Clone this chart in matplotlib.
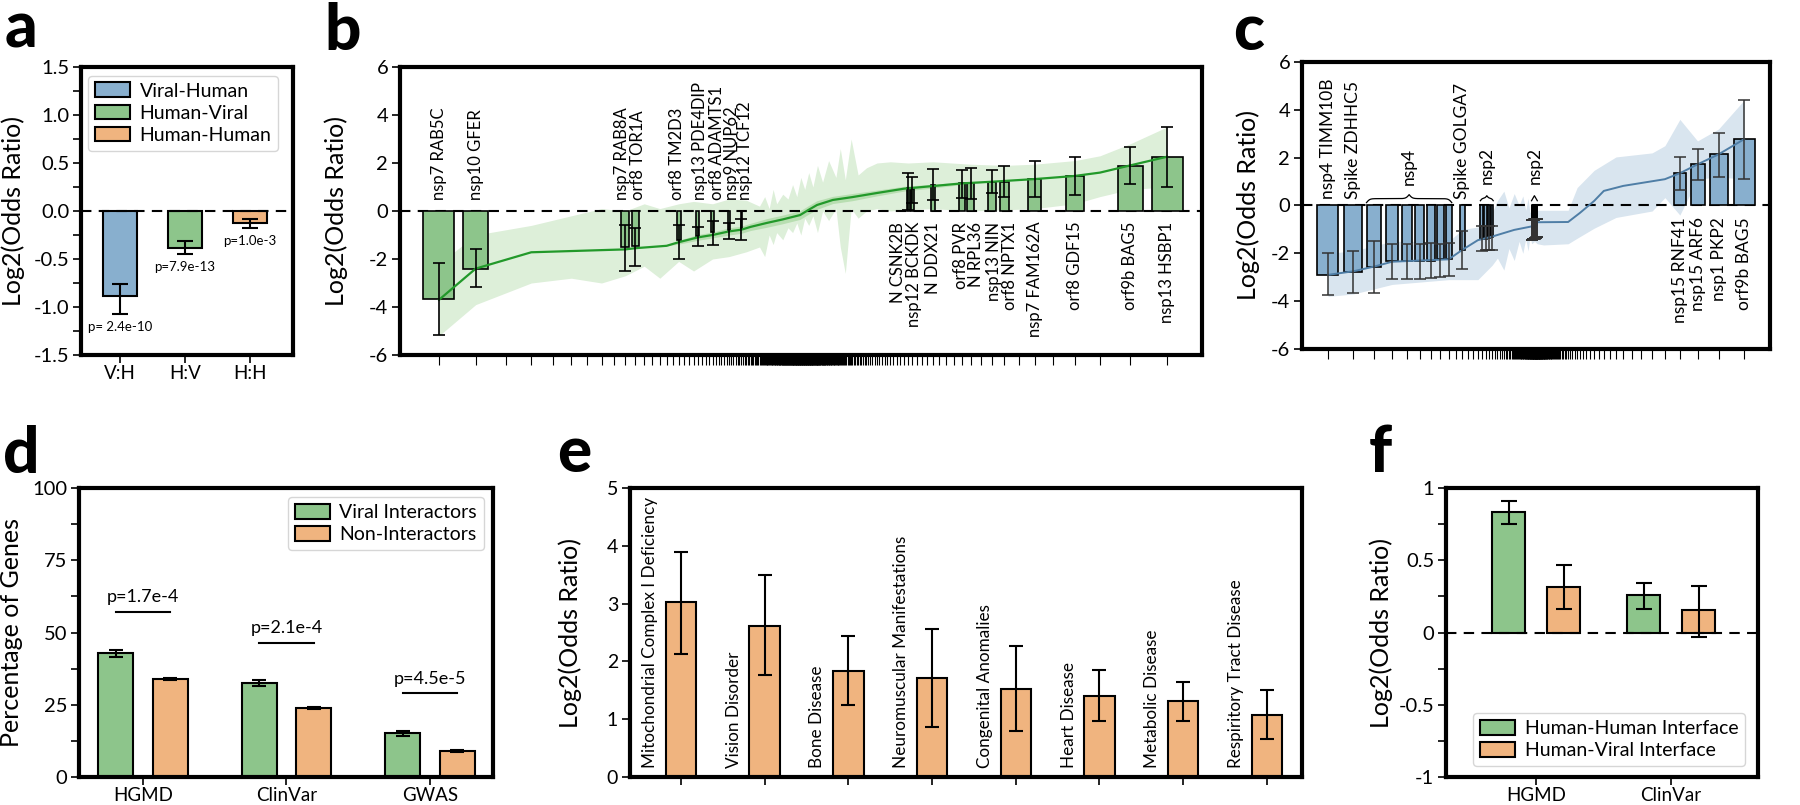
import numpy as np
import matplotlib
matplotlib.use('Agg')
import matplotlib.pyplot as plt
from matplotlib.ticker import MultipleLocator, NullLocator, FormatStrFormatter
from matplotlib.transforms import blended_transform_factory

plt.rcParams['font.family'] = ['Lato', 'DejaVu Sans']
plt.rcParams['axes.unicode_minus'] = False
plt.rcParams['axes.linewidth'] = 3

BLUE = '#88AFCE'
GREEN = '#8DC58B'
ORANGE = '#F0B47F'
B_LINE = '#22992a'
B_BAND = '#ddefd9'
B_INNER = '#b8deb1'
C_LINE = '#4f7ea6'
C_BAND = '#d9e5ef'

# ---------------- data ----------------
# a: interface odds ratios
a_cats = ['V:H', 'H:V', 'H:H']
a_names = ['Viral-Human', 'Human-Viral', 'Human-Human']
a_vals = [-0.89, -0.39, -0.13]
a_lo = [-1.075, -0.45, -0.18]
a_hi = [-0.76, -0.31, -0.086]
a_pvals = ['p= 2.4e-10', 'p=7.9e-13', 'p=1.0e-3']

# b: ranked viral-human pairs (rank along x)
b_n = 250
b_ranks = [1, 2, 10, 11, 17, 21, 25, 31, 37, 230, 231, 235, 239, 240, 242, 243, 245, 247, 249, 250]
b_names = ['nsp7 RAB5C', 'nsp10 GFER', 'nsp7 RAB8A', 'orf8 TOR1A', 'orf8 TM2D3',
           'nsp13 PDE4DIP', 'orf8 ADAMTS1', 'nsp9 NUP62', 'nsp12 TCF12',
           'N CSNK2B', 'nsp12 BCKDK', 'N DDX21', 'orf8 PVR', 'N RPL36', 'nsp13 NIN',
           'orf8 NPTX1', 'nsp7 FAM162A', 'orf8 GDF15', 'orf9b BAG5', 'nsp13 HSBP1']
b_label_dx = [0, 0, -3, 3, -2, 2, 4, 3, 4, -10, 2, 0, -1, 5, 2, 6, 0, 0, 0, 0]  # px nudges
b_vals = [-3.68, -2.4, -1.5, -1.45, -1.2, -1.05, -0.88, -0.8, -0.75,
          0.95, 0.93, 1.1, 1.15, 1.15, 1.22, 1.22, 1.33, 1.46, 1.89, 2.26]
b_lo = [-5.17, -3.15, -2.5, -2.3, -2.0, -1.46, -1.42, -1.15, -1.2,
        0.04, 0.32, 0.46, 0.53, 0.49, 0.76, 0.6, 0.57, 0.67, 1.11, 1.01]
b_hi = [-2.18, -1.6, -0.6, -0.7, -0.6, -0.65, -0.4, -0.5, -0.35,
        1.57, 1.43, 1.74, 1.71, 1.8, 1.71, 1.89, 2.08, 2.26, 2.65, 3.49]
b_line_r = [1, 2, 4, 8, 10, 11, 15, 17, 21, 25, 31, 37, 43, 57, 80, 118, 140, 159, 186, 206,
            220, 229, 235, 239, 242, 245, 247, 248, 249, 250]
b_line_v = [-3.7, -2.4, -1.72, -1.63, -1.6, -1.55, -1.45, -1.3, -1.1, -1.0, -0.85, -0.78, -0.66,
            -0.5, -0.35, -0.17, 0.05, 0.25, 0.46, 0.58, 0.75, 0.93, 1.04, 1.15, 1.22, 1.33,
            1.46, 1.6, 1.9, 2.26]
b_inner_half = [0, 0, 0, 0, 0, 0, 0, 0.08, 0.12, 0.12, 0.15, 0.15, 0.15, 0.18, 0.18, 0.18,
                0.18, 0.18, 0.15, 0.15, 0.12, 0.1, 0.08, 0.05, 0, 0, 0, 0, 0, 0]
b_band_r = [1, 2, 4, 6, 8, 10, 12, 14, 17, 20, 25, 31, 40, 50, 55, 60, 65, 70, 80, 90,
            100, 110, 120, 130, 140, 150, 160, 170, 180, 190, 195, 200, 205, 210, 215, 220,
            225, 230, 235, 240, 243, 245, 247, 248, 249, 250]
b_band_lo = [-5.2, -3.9, -3.0, -2.8, -3.0, -2.7, -2.3, -2.8, -2.1, -2.5, -2.0, -1.9, -1.7,
             -1.5, -1.9, -1.0, -1.4, -0.9, -1.2, -0.7, -0.9, -0.5, -1.0, -0.3, -0.6, -0.2,
             -0.9, 0.0, -0.4, 0.1, -1.5, -2.6, 0.1, -0.3, 0.0, 0.1, 0.0, 0.05, 0.1, 0.0,
             0.05, 0.1, 0.3, 0.6, 0.9, 1.0]
b_band_hi = [-2.2, -1.0, -0.6, -0.2, 0.1, 0.0, 0.3, 0.1, 0.3, 0.4, 0.3, 0.5, 0.45, 0.2,
             0.6, 0.1, 0.9, 0.3, 0.7, 0.5, 1.1, 0.6, 1.4, 0.9, 1.6, 1.0, 1.9, 1.2, 2.1,
             1.4, 2.6, 1.3, 3.0, 1.5, 1.8, 2.0, 2.05, 2.0, 2.05, 1.95, 1.9, 1.95, 2.1, 2.3,
             2.8, 3.5]

# c: ranked human-viral pairs
c_n = 150
c_ranks = [1, 2, 3, 4, 5, 6, 7, 8, 9, 11, 15, 16, 17, 18,
           60, 61, 62, 63, 64, 65, 66, 67, 68, 69, 70, 71, 72, 73, 74, 75, 76, 77, 78, 79, 80,
           147, 148, 149, 150]
c_vals = [-2.91, -2.76, -2.57, -2.32, -2.32, -2.32, -2.3, -2.25, -2.22, -1.87,
          -1.4, -1.38, -1.35, -1.33,
          -0.98, -0.97, -0.97, -0.96, -0.95, -0.95, -0.94, -0.93, -0.93, -0.92, -0.92,
          -0.91, -0.9, -0.9, -0.89, -0.88, -0.88, -0.87, -0.86, -0.86, -0.85,
          1.35, 1.72, 2.14, 2.77]
c_lo = [-3.76, -3.64, -3.64, -3.08, -3.08, -3.08, -3.05, -3.0, -2.95, -2.65,
        -1.9, -1.88, -1.88, -1.85,
        -1.45, -1.44, -1.43, -1.42, -1.42, -1.41, -1.4, -1.4, -1.39, -1.38, -1.38,
        -1.37, -1.36, -1.36, -1.35, -1.34, -1.34, -1.33, -1.32, -1.31, -1.3,
        0.64, 1.06, 1.2, 1.1]
c_hi = [-2.0, -1.9, -1.5, -1.59, -1.59, -1.59, -1.55, -1.62, -1.55, -1.08,
        -0.87, -0.86, -0.85, -0.84,
        -0.62, -0.62, -0.61, -0.61, -0.6, -0.6, -0.6, -0.59, -0.59, -0.58, -0.58,
        -0.58, -0.57, -0.57, -0.56, -0.56, -0.56, -0.55, -0.55, -0.55, -0.55,
        2.03, 2.38, 3.05, 4.41]
c_top_labels = {1: 'nsp4 TIMM10B', 2: 'Spike ZDHHC5', 11: 'Spike GOLGA7'}
c_bottom_labels = {147: 'nsp15 RNF41', 148: 'nsp15 ARF6', 149: 'nsp1 PKP2', 150: 'orf9b BAG5'}
c_groups = [('nsp4', 3, 9), ('nsp2', 15, 18), ('nsp2', 60, 80)]
c_line_r = [1, 2, 3, 4, 9, 11, 14, 18, 30, 58, 80, 128, 133, 137, 139, 142, 146, 147, 148,
            149, 150]
c_line_v = [-2.9, -2.75, -2.55, -2.35, -2.25, -1.85, -1.45, -1.3, -1.02, -0.88, -0.7, -0.69,
            -0.31, 0.19, 0.61, 0.82, 1.1, 1.35, 1.72, 2.14, 2.77]
c_band_r = [1, 2, 4, 9, 11, 14, 18, 20, 23, 26, 30, 35, 40, 45, 50, 55, 60, 70, 80, 100,
            128, 132, 137, 141, 145, 146, 147, 148, 149, 150]
c_band_lo = [-3.8, -3.7, -3.3, -3.1, -3.1, -3.1, -2.5, -2.2, -2.7, -1.8, -2.3, -1.5, -2.0,
             -1.4, -1.9, -1.3, -1.6, -1.5, -1.6, -1.65, -1.6, -1.37, -0.95, -0.5, -0.23,
             0.33, -0.4, 1.1, 1.2, 1.1]
c_band_hi = [-2.0, -1.9, -1.5, -1.5, -1.0, -0.9, -0.3, 0.2, 0.6, -0.1, 0.5, 0.0, 0.4, -0.2,
             0.3, -0.3, -0.2, -0.25, -0.2, -0.2, -0.2, 0.75, 1.47, 2.03, 2.2, 2.5, 3.6, 2.7,
             3.2, 4.4]

# d: disease gene enrichment
d_cats = ['HGMD', 'ClinVar', 'GWAS']
d_viral = [42.8, 32.4, 15.1]
d_viral_err = [1.3, 1.0, 0.8]
d_non = [33.8, 23.8, 9.0]
d_non_err = [0.3, 0.3, 0.3]
d_pvals = ['p=1.7e-4', 'p=2.1e-4', 'p=4.5e-5']

# e: disease categories
e_cats = ['Mitochondrial Complex I Deficiency', 'Vision Disorder', 'Bone Disease',
          'Neuromuscular Manifestations', 'Congenital Anomalies', 'Heart Disease',
          'Metabolic Disease', 'Respiritory Tract Disease']
e_vals = [3.02, 2.62, 1.84, 1.72, 1.53, 1.41, 1.31, 1.08]
e_lo = [2.13, 1.76, 1.24, 0.87, 0.8, 0.97, 0.97, 0.66]
e_hi = [3.9, 3.49, 2.44, 2.56, 2.27, 1.85, 1.65, 1.5]

# f: interface mutations
f_cats = ['HGMD', 'ClinVar']
f_hh = [0.835, 0.259]
f_hh_lo = [0.75, 0.164]
f_hh_hi = [0.91, 0.34]
f_hv = [0.314, 0.157]
f_hv_lo = [0.164, -0.028]
f_hv_hi = [0.47, 0.323]


# ---------------- helpers ----------------
def yerr(vals, lo, hi):
    v = np.asarray(vals)
    return [v - np.asarray(lo), np.asarray(hi) - v]


def rank_scale(n, c, q):
    # spreads out both ends of the ranking, packs the middle
    lo_r, hi_r = 0.5 - c, n + 0.5 + c

    def fwd(r):
        r = np.clip(np.asarray(r, dtype=float), lo_r, hi_r)
        return (n + 1 - r + c) ** -q - (r + c) ** -q

    grid = np.linspace(lo_r, hi_r, 60001)
    gv = fwd(grid)

    def inv(x):
        return np.interp(x, gv, grid)
    return fwd, inv


def style(ax, labelsize=14.5):
    ax.tick_params(which='both', direction='out', length=5.5, width=1.2,
                   labelsize=labelsize, pad=3)
    ax.tick_params(axis='x', labelsize=13.5, pad=1.5)
    for s in ax.spines.values():
        s.set_linewidth(3)


def zero_line(ax, z=2.5):
    ax.axhline(0, color='k', lw=1.5, ls=(0, (5, 3.5)), zorder=z)


def brace(ax, r0, r1, y, h, sharp):
    inv = ax.transAxes.inverted()
    (x0, y0), (x1, _) = ax.transData.transform([(r0, y), (r1, y)])
    w = x1 - x0
    u = np.linspace(0, w / 2, 120)
    half = 1 / (1 + np.exp(-u / sharp)) + 1 / (1 + np.exp(-(u - w / 2) / sharp))
    half = (half - half[0]) / (half[-1] - half[0])
    xs = np.concatenate([x0 + u, x1 - u[::-1]])
    ys = y0 + h * np.concatenate([half, half[::-1]])
    pts = inv.transform(np.column_stack([xs, ys]))
    ax.plot(pts[:, 0], pts[:, 1], transform=ax.transAxes, color='k', lw=0.9, zorder=5)
    return inv.transform([(x0 + w / 2, y0)])[0][0]


def px_axes(l, t, r, b):
    return [l / 1800, 1 - b / 805, (r - l) / 1800, (b - t) / 805]


fig = plt.figure(figsize=(18, 8.05), dpi=100)

# ---------------- a ----------------
ax = fig.add_axes(px_axes(81, 67, 293, 355))
for i, (v, name, col) in enumerate(zip(a_vals, a_names, [BLUE, GREEN, ORANGE])):
    ax.bar(i, v, 0.52, color=col, edgecolor='k', lw=1.5, label=name, zorder=2)
ax.errorbar(range(3), a_vals, yerr=yerr(a_vals, a_lo, a_hi), fmt='none', ecolor='k',
            elinewidth=1.5, capsize=6, capthick=1.5, zorder=4)
for i, p in enumerate(a_pvals):
    ax.annotate(p, (i, a_lo[i]), xytext=(0, -5), textcoords='offset points',
                ha='center', va='top', fontsize=9.5)
zero_line(ax)
ax.set_xlim(-0.6, 2.66)
ax.set_ylim(-1.5, 1.5)
ax.set_xticks(range(3))
ax.set_xticklabels(a_cats)
ax.yaxis.set_major_locator(MultipleLocator(0.5))
ax.yaxis.set_minor_locator(MultipleLocator(0.25))
ax.yaxis.set_major_formatter(FormatStrFormatter('%.1f'))
ax.set_ylabel('Log2(Odds Ratio)', fontsize=18)
ax.yaxis.set_label_coords(-0.265, 0.5)
ax.legend(loc='upper right', bbox_to_anchor=(0.93, 0.97), borderaxespad=0, fontsize=14,
          handlelength=1.8, handleheight=0.8, labelspacing=0.25, handletextpad=0.5,
          borderpad=0.35)
style(ax)

# ---------------- b ----------------
ax = fig.add_axes(px_axes(400, 67, 1202, 355))
fwd, inv = rank_scale(b_n, 8.3, 1)
ax.set_xscale('function', functions=(fwd, inv))
ax.set_xlim(0.13, b_n + 0.79)
ax.set_ylim(-6, 6)
ax.fill_between(b_band_r, b_band_lo, b_band_hi, color=B_BAND, lw=0, zorder=1)
lv = np.asarray(b_line_v)
ih = np.asarray(b_inner_half)
ax.fill_between(b_line_r, lv - ih, lv + ih, color=B_INNER, lw=0, zorder=1.2)
zero_line(ax, 1.5)
ax.bar(b_ranks, b_vals, 0.75, color=GREEN, edgecolor='k', lw=1.2, zorder=2)
ax.plot(b_line_r, b_line_v, color=B_LINE, lw=1.6, zorder=3)
ax.errorbar(b_ranks, b_vals, yerr=yerr(b_vals, b_lo, b_hi), fmt='none', ecolor='k',
            elinewidth=1.2, capsize=4, capthick=1.2, zorder=4)
for r, v, name, dx in zip(b_ranks, b_vals, b_names, b_label_dx):
    y, va = (0.45, 'bottom') if v < 0 else (-0.45, 'top')
    ax.annotate(name, (r, y), xytext=(dx * 0.72, 0), textcoords='offset points',
                rotation=90, ha='center', va=va, fontsize=12)
ax.set_xticks(np.arange(1, b_n + 1))
ax.xaxis.set_minor_locator(NullLocator())
ax.tick_params(axis='x', labelbottom=False)
ax.yaxis.set_major_locator(MultipleLocator(2))
ax.yaxis.set_major_formatter(FormatStrFormatter('%d'))
ax.set_ylabel('Log2(Odds Ratio)', fontsize=18)
ax.yaxis.set_label_coords(-0.065, 0.5)
style(ax)
ax.tick_params(axis='x', length=7, width=0.8, color='k')

# ---------------- c ----------------
ax = fig.add_axes(px_axes(1302, 62, 1770, 349))
fwd, inv = rank_scale(c_n, 14, 2)
ax.set_xscale('function', functions=(fwd, inv))
ax.set_xlim(0.15, c_n + 0.85)
ax.set_ylim(-6, 6)
ax.fill_between(c_band_r, c_band_lo, c_band_hi, color=C_BAND, lw=0, zorder=1)
zero_line(ax, 1.5)
ax.bar(c_ranks, c_vals, 0.75, color=BLUE, edgecolor='k', lw=1.2, zorder=2)
ax.plot(c_line_r, c_line_v, color=C_LINE, lw=1.4, zorder=3)
ax.errorbar(c_ranks, c_vals, yerr=yerr(c_vals, c_lo, c_hi), fmt='none', ecolor='0.2',
            elinewidth=1.1, capsize=4, capthick=1.1, zorder=4)
for r, name in c_top_labels.items():
    ax.text(r, 0.26, name, rotation=90, ha='center', va='bottom', fontsize=12.5)
for r, name in c_bottom_labels.items():
    ax.text(r, -0.5, name, rotation=90, ha='center', va='top', fontsize=12.5)
ax.set_xticks(np.arange(1, c_n + 1))
ax.xaxis.set_minor_locator(NullLocator())
ax.tick_params(axis='x', labelbottom=False)
ax.yaxis.set_major_locator(MultipleLocator(2))
ax.yaxis.set_major_formatter(FormatStrFormatter('%d'))
ax.set_ylabel('Log2(Odds Ratio)', fontsize=18)
ax.yaxis.set_label_coords(-0.09, 0.5)
style(ax)
ax.tick_params(axis='x', length=7, width=0.8, color='k')
mixed = blended_transform_factory(ax.transAxes, ax.transData)
for name, r0, r1 in c_groups:
    wide = r1 - r0 == 6
    xm = brace(ax, r0 - 0.4, r1 + 0.4, 0.12 if wide else 0.2, 8 if wide else 5,
               1.6 if wide else 0.9)
    ax.text(xm, 0.84 if wide else 0.88, name, transform=mixed, rotation=90,
            ha='center', va='bottom', fontsize=12.5)

# ---------------- d ----------------
ax = fig.add_axes(px_axes(79, 488, 493, 777))
x = np.arange(len(d_cats))
ax.bar(x - 0.19, d_viral, 0.245, yerr=d_viral_err, color=GREEN, edgecolor='k', lw=1.5,
       label='Viral Interactors', capsize=5, error_kw=dict(elinewidth=1.5, capthick=1.5))
ax.bar(x + 0.19, d_non, 0.245, yerr=d_non_err, color=ORANGE, edgecolor='k', lw=1.5,
       label='Non-Interactors', capsize=5, error_kw=dict(elinewidth=1.5, capthick=1.5))
for i, p in enumerate(d_pvals):
    top = max(d_viral[i] + d_viral_err[i], d_non[i] + d_non_err[i]) + 13
    ax.plot([i - 0.19, i + 0.19], [top, top], color='k', lw=1.5)
    ax.annotate(p, (i, top), xytext=(0, 5), textcoords='offset points',
                ha='center', va='bottom', fontsize=13)
ax.set_xlim(-0.446, 2.44)
ax.set_ylim(0, 100)
ax.set_xticks(x)
ax.set_xticklabels(d_cats)
ax.yaxis.set_major_locator(MultipleLocator(25))
ax.yaxis.set_minor_locator(MultipleLocator(12.5))
ax.set_ylabel('Percentage of Genes', fontsize=18)
ax.yaxis.set_label_coords(-0.135, 0.5)
ax.legend(loc='upper right', bbox_to_anchor=(0.978, 0.969), borderaxespad=0, fontsize=14,
          handlelength=1.8, handleheight=0.8, labelspacing=0.25, handletextpad=0.5,
          borderpad=0.35)
style(ax)

# ---------------- e ----------------
ax = fig.add_axes(px_axes(630, 488, 1302, 777))
x = np.arange(len(e_cats))
ax.bar(x, e_vals, 0.365, color=ORANGE, edgecolor='k', lw=1.5, zorder=2)
ax.errorbar(x, e_vals, yerr=yerr(e_vals, e_lo, e_hi), fmt='none', ecolor='k',
            elinewidth=1.5, capsize=5, capthick=1.5, zorder=4)
for i, name in enumerate(e_cats):
    ax.text(i - 0.37, 0.15, name, rotation=90, ha='center', va='bottom', fontsize=12.3)
ax.set_xlim(-0.61, 7.42)
ax.set_ylim(0, 5)
ax.set_xticks(x)
ax.set_xticklabels([])
ax.yaxis.set_major_locator(MultipleLocator(1))
ax.set_ylabel('Log2(Odds Ratio)', fontsize=18)
ax.yaxis.set_label_coords(-0.071, 0.5)
style(ax, 14)

# ---------------- f ----------------
ax = fig.add_axes(px_axes(1446, 488, 1758, 777))
x = np.arange(len(f_cats))
ax.bar(x - 0.204, f_hh, 0.25, color=GREEN, edgecolor='k', lw=1.5,
       label='Human-Human Interface', zorder=2)
ax.bar(x + 0.204, f_hv, 0.25, color=ORANGE, edgecolor='k', lw=1.5,
       label='Human-Viral Interface', zorder=2)
ax.errorbar(x - 0.204, f_hh, yerr=yerr(f_hh, f_hh_lo, f_hh_hi), fmt='none', ecolor='k',
            elinewidth=1.5, capsize=6, capthick=1.5, zorder=4)
ax.errorbar(x + 0.204, f_hv, yerr=yerr(f_hv, f_hv_lo, f_hv_hi), fmt='none', ecolor='k',
            elinewidth=1.5, capsize=6, capthick=1.5, zorder=4)
zero_line(ax, 3)
ax.set_xlim(-0.667, 1.644)
ax.set_ylim(-1, 1)
ax.set_xticks(x)
ax.set_xticklabels(f_cats)
ax.yaxis.set_major_locator(MultipleLocator(0.5))
ax.yaxis.set_minor_locator(MultipleLocator(0.25))
ax.yaxis.set_major_formatter(FormatStrFormatter('%g'))
ax.set_ylabel('Log2(Odds Ratio)', fontsize=18)
ax.yaxis.set_label_coords(-0.17, 0.5)
ax.legend(loc='lower left', bbox_to_anchor=(0.087, 0.038), borderaxespad=0, fontsize=14,
          handlelength=1.8, handleheight=0.8, labelspacing=0.25, handletextpad=0.5,
          borderpad=0.35)
style(ax)

# panel letters
for letter, xp, yp in [('a', 5, 47), ('b', 324, 50), ('c', 1233, 50),
                       ('d', 3, 473), ('e', 557, 472), ('f', 1369, 472)]:
    fig.text(xp / 1800, 1 - yp / 805, letter, fontsize=46, fontweight='black',
             va='baseline', ha='left')

fig.savefig('out.png', dpi=100)
